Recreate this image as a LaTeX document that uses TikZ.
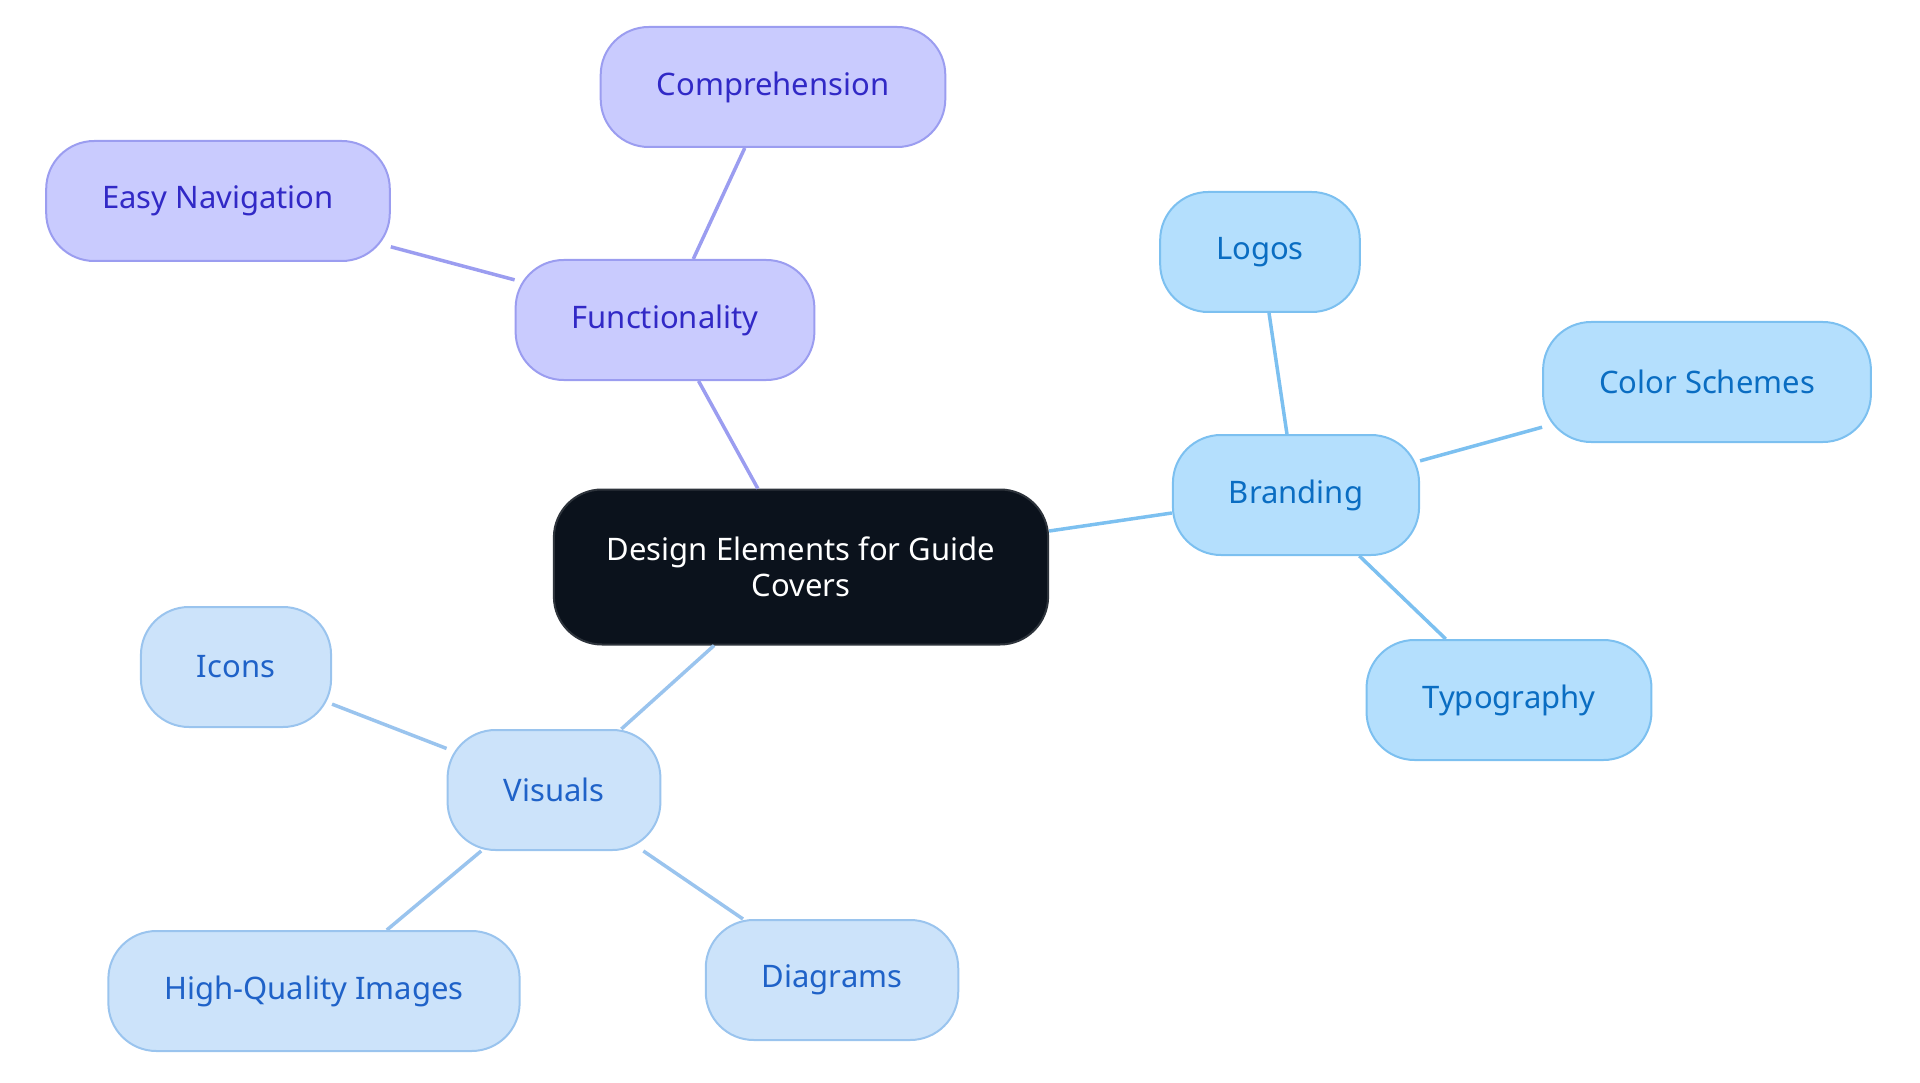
\documentclass[tikz,border=0pt]{standalone}
\usepackage{fontspec}
\setmainfont{Noto Sans}
\definecolor{rootfill}{HTML}{0B121C}
\definecolor{rootdraw}{HTML}{2D333B}
\definecolor{funcfill}{HTML}{C9CBFE}
\definecolor{funcdraw}{HTML}{9B9DF0}
\definecolor{functext}{HTML}{3129C6}
\definecolor{brandfill}{HTML}{B4DFFD}
\definecolor{branddraw}{HTML}{7CC0F0}
\definecolor{brandtext}{HTML}{0A6DC2}
\definecolor{visfill}{HTML}{CCE3FA}
\definecolor{visdraw}{HTML}{9AC4EE}
\definecolor{vistext}{HTML}{1F62C8}
\tikzset{
  bubble/.style={rounded corners=48pt, line width=2pt, minimum height=120pt,
    inner xsep=56pt, font=\fontsize{31}{36}\selectfont},
  rootnode/.style={bubble, fill=rootfill, draw=rootdraw, text=white,
    align=center, minimum height=155pt, inner xsep=53pt},
  funcnode/.style={bubble, fill=funcfill, draw=funcdraw, text=functext},
  brandnode/.style={bubble, fill=brandfill, draw=branddraw, text=brandtext},
  visnode/.style={bubble, fill=visfill, draw=visdraw, text=vistext},
  funcedge/.style={funcdraw, line width=3.5pt},
  brandedge/.style={branddraw, line width=3.5pt},
  visedge/.style={visdraw, line width=3.5pt}
}
\begin{document}
\begin{tikzpicture}[x=1pt, y=-1pt]
    \useasboundingbox (0,0) rectangle (1920,1083);

    % Central topic
    \node[rootnode] (root) at (801,567) {Design Elements for Guide\\Covers};

    % Functionality branch
    \node[funcnode] (func) at (665,320) {Functionality};
    \node[funcnode] (compr) at (773,87) {Comprehension};
    \node[funcnode] (easynav) at (218,201) {Easy Navigation};

    % Branding branch
    \node[brandnode] (brand) at (1296,495) {Branding};
    \node[brandnode] (logos) at (1260,252) {Logos};
    \node[brandnode] (colors) at (1707,382) {Color Schemes};
    \node[brandnode] (typo) at (1509,700) {Typography};

    % Visuals branch
    \node[visnode] (visuals) at (554,790) {Visuals};
    \node[visnode] (icons) at (236,667) {Icons};
    \node[visnode] (hqimg) at (314,991) {High-Quality Images};
    \node[visnode] (diagrams) at (832,980) {Diagrams};

    % Connectors
    \draw[funcedge] (root) -- (func);
    \draw[funcedge] (func) -- (compr);
    \draw[funcedge] (func) -- (easynav);
    \draw[brandedge] (root) -- (brand);
    \draw[brandedge] (brand) -- (logos);
    \draw[brandedge] (brand) -- (colors);
    \draw[brandedge] (brand) -- (typo);
    \draw[visedge] (root) -- (visuals);
    \draw[visedge] (visuals) -- (icons);
    \draw[visedge] (visuals) -- (hqimg);
    \draw[visedge] (visuals) -- (diagrams);
\end{tikzpicture}
\end{document}
